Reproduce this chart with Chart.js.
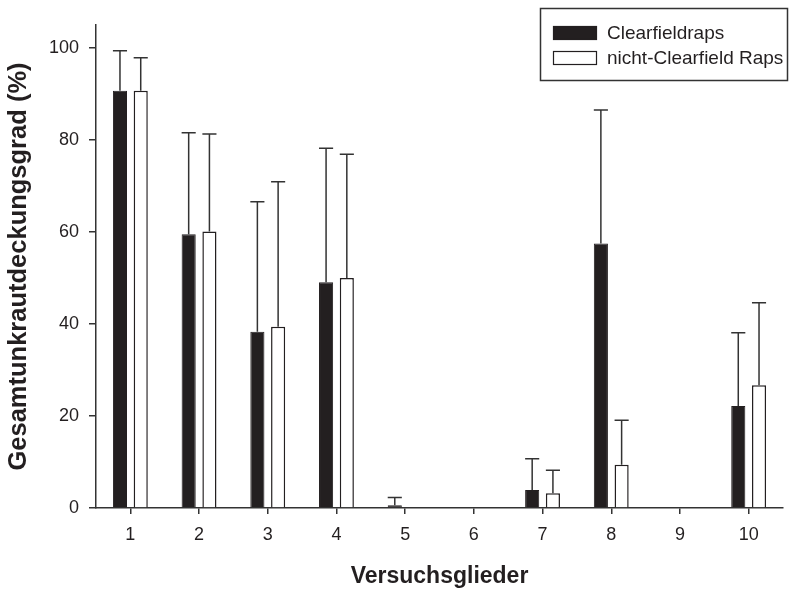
<!DOCTYPE html>
<html>
<head>
<meta charset="utf-8">
<script src="https://cdn.jsdelivr.net/npm/chart.js@4.4.1/dist/chart.umd.min.js"></script>
<style>
  html, body { margin: 0; padding: 0; background: #fff; }
  #wrap { width: 789px; height: 589px; }
</style>
</head>
<body>
<div id="wrap"><canvas id="weedChart" width="789" height="589"></canvas></div>
<script>
const glieder = ['1', '2', '3', '4', '5', '6', '7', '8', '9', '10'];
const clearfieldMittel = [90.7, 59.5, 38.3, 49.1, 0.6, 0, 3.9, 57.5, 0, 22.2];
const clearfieldSd     = [8.7, 22.1, 28.3, 29.1, 1.7, 0, 6.8, 29.0, 0, 15.9];
const nichtMittel      = [90.7, 60.1, 39.4, 50.0, 0, 0, 3.2, 9.4, 0, 26.7];
const nichtSd          = [7.2, 21.2, 31.5, 26.9, 0, 0, 5.0, 9.7, 0, 17.9];
const yTicks = [0, 20, 40, 60, 80, 100];

const dunkel = '#231f20';
const linie = '#333333';

// upward error bars with caps
const fehlerbalken = {
  id: 'fehlerbalken',
  afterDatasetsDraw(chart) {
    const ctx = chart.ctx;
    const y = chart.scales.y;
    ctx.save();
    ctx.strokeStyle = linie;
    ctx.lineWidth = 1.5;
    chart.data.datasets.forEach((ds, i) => {
      const meta = chart.getDatasetMeta(i);
      meta.data.forEach((bar, j) => {
        const sd = ds.sd[j];
        if (!sd) return;
        const top = y.getPixelForValue(ds.data[j] + sd);
        const half = bar.width / 2;
        ctx.beginPath();
        ctx.moveTo(bar.x, bar.y);
        ctx.lineTo(bar.x, top);
        ctx.moveTo(bar.x - half, top);
        ctx.lineTo(bar.x + half, top);
        ctx.stroke();
      });
    });
    ctx.restore();
  }
};

// boxed legend in the upper right
const legendeBox = {
  id: 'legendeBox',
  afterDraw(chart) {
    const ctx = chart.ctx;
    ctx.save();
    ctx.strokeStyle = linie;
    ctx.lineWidth = 1.5;
    ctx.strokeRect(540.5, 8.5, 247, 72);
    ctx.font = '19px "Liberation Sans", Arial, sans-serif';
    ctx.textBaseline = 'middle';
    chart.data.datasets.forEach((ds, i) => {
      const top = 26 + i * 25;
      ctx.fillStyle = ds.backgroundColor;
      ctx.fillRect(553, top, 44, 14);
      ctx.lineWidth = 1.2;
      ctx.strokeStyle = dunkel;
      ctx.strokeRect(553.5, top + 0.5, 43, 13);
      ctx.fillStyle = '#231f20';
      ctx.fillText(ds.label, 607, top + 7.5);
    });
    ctx.restore();
  }
};

new Chart(document.getElementById('weedChart').getContext('2d'), {
  type: 'bar',
  data: {
    labels: glieder,
    datasets: [
      {
        label: 'Clearfieldraps',
        data: clearfieldMittel,
        sd: clearfieldSd,
        backgroundColor: dunkel,
        borderColor: dunkel,
        borderWidth: 1,
        categoryPercentage: 0.604,
        barPercentage: 0.68
      },
      {
        label: 'nicht-Clearfield Raps',
        data: nichtMittel,
        sd: nichtSd,
        backgroundColor: '#ffffff',
        borderColor: dunkel,
        borderWidth: 1.5,
        categoryPercentage: 0.604,
        barPercentage: 0.68
      }
    ]
  },
  options: {
    responsive: false,
    animation: false,
    devicePixelRatio: 1,
    layout: { padding: { top: 25, right: 6, left: 0, bottom: 0 } },
    plugins: {
      legend: { display: false },
      tooltip: { enabled: false }
    },
    scales: {
      x: {
        offset: true,
        afterFit: s => { s.height = 81; },
        grid: {
          display: true,
          offset: false,
          drawOnChartArea: false,
          drawTicks: true,
          tickLength: 6,
          color: linie,
          lineWidth: 1.5
        },
        border: { display: true, color: linie, width: 1.5 },
        ticks: {
          padding: 10,
          color: '#231f20',
          font: { family: '"Liberation Sans", Arial, sans-serif', size: 18 }
        },
        title: {
          display: true,
          text: 'Versuchsglieder',
          color: '#231f20',
          padding: { top: 0, bottom: 0.5 },
          font: { family: '"Liberation Sans", Arial, sans-serif', size: 23, weight: 'bold', lineHeight: 1 }
        }
      },
      y: {
        min: 0,
        max: 105,
        afterFit: s => { s.width = 96; },
        afterBuildTicks: s => { s.ticks = yTicks.map(v => ({ value: v })); },
        grid: {
          display: true,
          drawOnChartArea: false,
          drawTicks: true,
          tickLength: 7,
          color: linie,
          lineWidth: 1.5
        },
        border: { display: true, color: linie, width: 1.5 },
        ticks: {
          padding: 10,
          color: '#231f20',
          font: { family: '"Liberation Sans", Arial, sans-serif', size: 18 }
        },
        title: {
          display: true,
          text: 'Gesamtunkrautdeckungsgrad (%)',
          color: '#231f20',
          padding: { top: 6, bottom: 0 },
          font: { family: '"Liberation Sans", Arial, sans-serif', size: 25.5, weight: 'bold', lineHeight: 1 }
        }
      }
    }
  },
  plugins: [fehlerbalken, legendeBox]
});
</script>
</body>
</html>
